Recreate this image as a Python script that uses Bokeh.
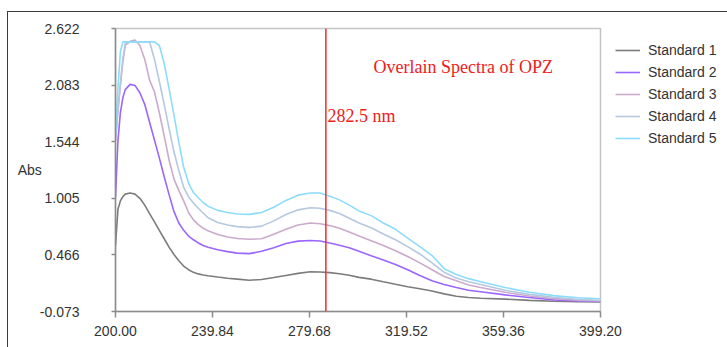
from bokeh.plotting import figure
from bokeh.models import Range1d, FixedTicker, Span, Label, Legend, LegendItem
from bokeh.embed import file_html
from bokeh.resources import INLINE

# ---------------- data ----------------
wavelength = [200, 201, 202, 203, 204, 206, 208, 210, 212, 214, 216, 218, 220, 222, 224,
              226, 228, 230, 232, 234, 236, 238, 242, 246, 250, 255, 260, 265, 270, 275,
              280, 284, 288, 292, 296, 300, 305, 310, 315, 320, 325, 330, 335, 340, 345,
              350, 360, 370, 380, 390, 399.2]

standard_1 = [0.556, 0.90, 0.98, 1.02, 1.045, 1.055, 1.045, 1.005, 0.94, 0.86, 0.78, 0.70, 0.62, 0.54, 0.47,
              0.41, 0.36, 0.325, 0.30, 0.285, 0.275, 0.268, 0.255, 0.243, 0.235, 0.225, 0.232, 0.25, 0.27, 0.29,
              0.305, 0.303, 0.297, 0.287, 0.272, 0.252, 0.235, 0.21, 0.186, 0.163, 0.143, 0.122, 0.095, 0.072, 0.06,
              0.053, 0.045, 0.033, 0.024, 0.02, 0.018]

standard_2 = [1.016, 1.55, 1.82, 1.96, 2.04, 2.09, 2.08, 2.01, 1.90, 1.73, 1.56, 1.39, 1.21, 1.04, 0.88,
              0.77, 0.70, 0.645, 0.61, 0.58, 0.555, 0.538, 0.515, 0.497, 0.483, 0.478, 0.50, 0.535, 0.575, 0.597,
              0.603, 0.598, 0.58, 0.558, 0.535, 0.50, 0.458, 0.418, 0.375, 0.325, 0.27, 0.22, 0.185, 0.155, 0.13,
              0.115, 0.085, 0.06, 0.038, 0.027, 0.022]

standard_3 = [1.55, 1.83, 2.08, 2.30, 2.46, 2.50, 2.513, 2.46, 2.33, 2.13, 2.02, 1.82, 1.60, 1.37, 1.19,
              1.08, 0.98, 0.87, 0.80, 0.755, 0.72, 0.695, 0.66, 0.636, 0.622, 0.615, 0.62, 0.662, 0.71, 0.75,
              0.77, 0.762, 0.745, 0.72, 0.685, 0.645, 0.60, 0.555, 0.505, 0.45, 0.39, 0.325, 0.26, 0.22, 0.18,
              0.155, 0.11, 0.075, 0.05, 0.035, 0.028]

standard_4 = [1.58, 1.85, 2.10, 2.33, 2.48, 2.495, 2.495, 2.495, 2.495, 2.495, 2.33, 2.12, 1.90, 1.67, 1.45,
              1.27, 1.11, 1.02, 0.96, 0.91, 0.865, 0.82, 0.775, 0.75, 0.735, 0.728, 0.74, 0.79, 0.85, 0.895,
              0.915, 0.91, 0.89, 0.86, 0.815, 0.77, 0.725, 0.665, 0.61, 0.545, 0.475, 0.39, 0.30, 0.245, 0.21,
              0.185, 0.13, 0.09, 0.062, 0.042, 0.032]

standard_5 = [1.62, 2.05, 2.40, 2.495, 2.495, 2.495, 2.495, 2.495, 2.495, 2.495, 2.495, 2.46, 2.29, 2.05, 1.80,
              1.54, 1.30, 1.15, 1.06, 1.01, 0.965, 0.93, 0.89, 0.87, 0.855, 0.852, 0.87, 0.92, 0.985, 1.035,
              1.055, 1.055, 1.025, 0.99, 0.94, 0.885, 0.84, 0.77, 0.71, 0.625, 0.545, 0.46, 0.335, 0.28, 0.24,
              0.21, 0.155, 0.11, 0.078, 0.058, 0.048]

series_names = ["Standard 1", "Standard 2", "Standard 3", "Standard 4", "Standard 5"]
series_values = [standard_1, standard_2, standard_3, standard_4, standard_5]
series_colors = ["#7c7c7c", "#9a66ff", "#cbaacb", "#b6c8df", "#8cdcfb"]

x_ticks = [200.00, 239.84, 279.68, 319.52, 359.36, 399.20]
x_tick_labels = ["200.00", "239.84", "279.68", "319.52", "359.36", "399.20"]
y_ticks = [-0.073, 0.466, 1.005, 1.544, 2.083, 2.622]
y_tick_labels = ["-0.073", "0.466", "1.005", "1.544", "2.083", "2.622"]

marker_wavelength = 286.4
marker_text = "282.5 nm"
title_text = "Overlain Spectra of OPZ"
y_axis_text = "Abs"

# ---------------- figure ----------------
p = figure(frame_width=485, frame_height=283,
           min_border_left=107, min_border_right=127, min_border_top=16, min_border_bottom=36,
           x_range=Range1d(200, 399.2), y_range=Range1d(-0.073, 2.622),
           output_backend="svg", toolbar_location=None, tools="")
p.styles = {"margin-left": "7px", "margin-top": "11px",
            "border-top": "1px solid #3a3a3a", "border-left": "1px solid #3a3a3a"}
p.xgrid.visible = False
p.ygrid.visible = False
p.outline_line_color = "#c4c4c4"
p.outline_line_width = 1.5
p.background_fill_color = "white"
p.border_fill_color = "white"

for ax, ticks, labels, tick_out, standoff in ((p.xaxis, x_ticks, x_tick_labels, 6, 8),
                                               (p.yaxis, y_ticks, y_tick_labels, 4, 32)):
    ax.ticker = FixedTicker(ticks=ticks)
    ax.major_label_overrides = dict(zip(ticks, labels))
    ax.major_tick_out = tick_out
    ax.major_tick_in = 0
    ax.minor_tick_out = 0
    ax.minor_tick_in = 0
    ax.axis_line_color = "#8c8c8c"
    ax.axis_line_width = 1.5
    ax.major_tick_line_color = "#8c8c8c"
    ax.major_tick_line_width = 1.5
    ax.major_label_text_font = "Liberation Sans"
    ax.major_label_text_font_size = "14px"
    ax.major_label_text_color = "#333333"
    ax.major_label_standoff = standoff

p.yaxis.axis_label = y_axis_text
p.yaxis.axis_label_orientation = "horizontal"
p.yaxis.axis_label_standoff = -5
p.yaxis.axis_label_text_font = "Liberation Sans"
p.yaxis.axis_label_text_font_size = "14px"
p.yaxis.axis_label_text_font_style = "normal"
p.yaxis.axis_label_text_color = "#333333"

items = []
for name, vals, col in zip(series_names, series_values, series_colors):
    r = p.line(wavelength, vals, line_color=col, line_width=1.6)
    items.append(LegendItem(label=name, renderers=[r]))

legend = Legend(items=items, location=(15, 162), margin=0, padding=0, spacing=0,
                glyph_width=25, glyph_height=22, label_height=22, label_standoff=8,
                label_text_font="Liberation Sans", label_text_font_size="14px",
                label_text_color="#333333", border_line_alpha=0, background_fill_alpha=0)
p.add_layout(legend, "right")

p.add_layout(Span(location=marker_wavelength, dimension="height",
                  line_color="#f22c2c", line_width=1.5))

p.add_layout(Label(x=306.0, y=2.26, text=title_text, text_font="Liberation Serif",
                   text_font_size="18px", text_color="#f02020", text_baseline="alphabetic"))
p.add_layout(Label(x=287.1, y=1.784, text=marker_text, text_font="Liberation Serif",
                   text_font_size="18px", text_color="#f02020", text_baseline="alphabetic"))

open("out.html", "w").write(file_html(p, INLINE))
